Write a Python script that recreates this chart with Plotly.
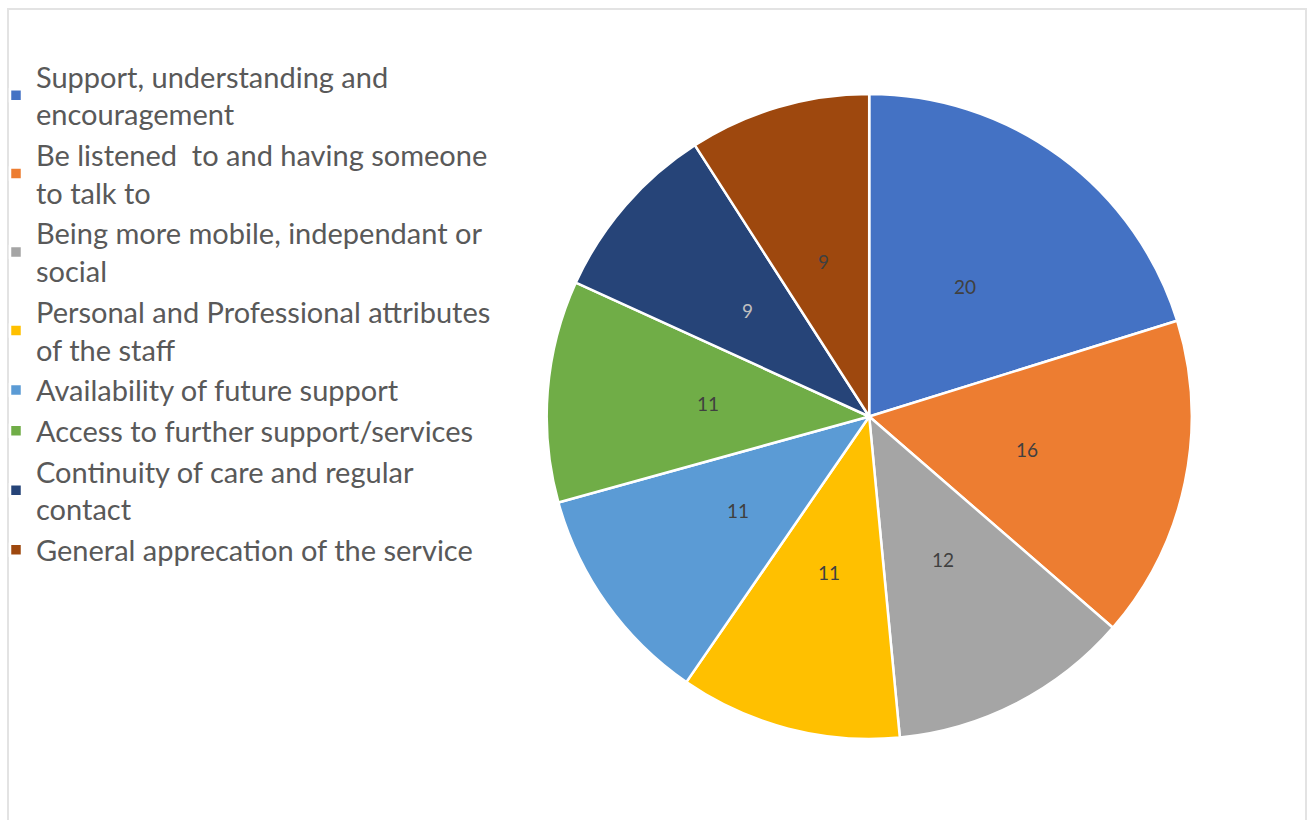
import math
import plotly.graph_objects as go

# Survey themes and the number of responses for each
categories = [
    "Support, understanding and<br>encouragement",
    "Be listened  to and having someone<br>to talk to",
    "Being more mobile, independant or<br>social",
    "Personal and Professional attributes<br>of the staff",
    "Availability of future support",
    "Access to further support/services",
    "Continuity of care and regular<br>contact",
    "General apprecation of the service",
]
counts = [20, 16, 12, 11, 11, 11, 9, 9]

slice_colors = ["#4472C4", "#ED7D31", "#A5A5A5", "#FFC000",
                "#5B9BD5", "#70AD47", "#264478", "#9E480E"]
label_colors = ["#404040", "#404040", "#404040", "#404040",
                "#404040", "#404040", "#BFBFBF", "#404040"]

W, H = 1308, 820
# pie domain in paper fractions
dom_x = [546.7 / W, 1191.7 / W]
dom_y = [1 - 739.0 / H, 1 - 94.0 / H]

fig = go.Figure(go.Pie(
    labels=categories,
    values=counts,
    sort=False,
    direction="clockwise",
    rotation=0,
    textinfo="none",
    hoverinfo="label+value",
    marker=dict(colors=slice_colors, line=dict(color="white", width=2.5)),
    domain=dict(x=dom_x, y=dom_y),
))

# value labels placed halfway out along each slice's bisector
cx = (dom_x[0] + dom_x[1]) / 2 * W
cy = (1 - (dom_y[0] + dom_y[1]) / 2) * H
R = min((dom_x[1] - dom_x[0]) * W, (dom_y[1] - dom_y[0]) * H) / 2
total = sum(counts)
cum = 0
annotations = []
for v, c in zip(counts, label_colors):
    mid = (cum + v / 2) / total * 2 * math.pi
    cum += v
    px = cx + 0.5 * R * math.sin(mid)
    py = cy - 0.5 * R * math.cos(mid)
    annotations.append(dict(
        x=px / W, y=1 - py / H, xref="paper", yref="paper",
        text=str(v), showarrow=False,
        font=dict(family="Lato", size=19, color=c),
        xanchor="center", yanchor="middle",
    ))

fig.update_layout(
    width=W, height=H,
    margin=dict(l=0, r=0, t=0, b=0, autoexpand=False),
    paper_bgcolor="white",
    plot_bgcolor="white",
    font=dict(family="Lato", color="#595959"),
    showlegend=True,
    legend=dict(
        x=-4 / W, y=1 - 51 / H, xanchor="left", yanchor="top",
        font=dict(family="Lato", size=29, color="#595959"),
        bgcolor="rgba(0,0,0,0)",
        itemclick=False, itemdoubleclick=False,
    ),
    annotations=annotations,
    shapes=[dict(
        type="rect", xref="paper", yref="paper",
        x0=8 / W, x1=1306 / W, y0=-0.05, y1=1 - 9 / H,
        line=dict(color="#E3E3E3", width=2),
        fillcolor="rgba(0,0,0,0)", layer="below",
    )],
)

fig.write_html("out.html")
